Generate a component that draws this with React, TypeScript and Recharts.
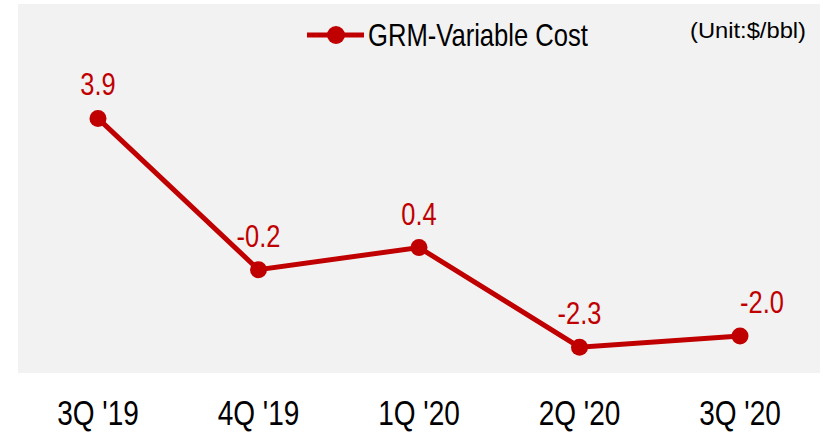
import React from "react";
import { LineChart, Line, XAxis, YAxis, CartesianGrid, LabelList } from "recharts";

const categories = ["3Q '19", "4Q '19", "1Q '20", "2Q '20", "3Q '20"];
const grmValues = [3.9, -0.2, 0.4, -2.3, -2.0];
const seriesName = "GRM-Variable Cost";
const unitLabel = "(Unit:$/bbl)";

const data = categories.map((c, i) => ({ name: c, value: grmValues[i] }));

const RED = "#c00000";
const FONT = "'Liberation Sans', Arial, sans-serif";

const Tick = (props: any) => {
  const { x, y, payload } = props;
  return (
    <g transform={`translate(${x},${y + 44}) scale(0.8,1)`}>
      <text x={0} y={0} textAnchor="middle" fill="#000" fontSize={35} fontFamily={FONT}>
        {payload.value}
      </text>
    </g>
  );
};

const ValueLabel = (props: any) => {
  const { x, y, value, index } = props;
  const dx = index === grmValues.length - 1 ? 22 : 0;
  return (
    <g transform={`translate(${x + dx},${y - 23}) scale(0.82,1)`}>
      <text x={0} y={0} textAnchor="middle" fill={RED} fontSize={31} fontFamily={FONT}>
        {Number(value).toFixed(1)}
      </text>
    </g>
  );
};

export default function App() {
  return (
    <div style={{ position: "absolute", left: 0, top: 0, width: 823, height: 433, background: "#fff" }}>
      <LineChart width={823} height={433} data={data} margin={{ top: 4, right: 3, left: 18, bottom: 0 }}>
        <CartesianGrid fill="#f2f2f2" horizontal={false} vertical={false} stroke="none" />
        <XAxis
          dataKey="name"
          axisLine={false}
          tickLine={false}
          height={60}
          tick={<Tick />}
          interval={0}
          padding={{ left: 80, right: 80 }}
        />
        <YAxis hide domain={[-3, 7]} />
        <Line
          type="linear"
          dataKey="value"
          name={seriesName}
          stroke={RED}
          strokeWidth={5}
          dot={{ r: 8.5, fill: RED, stroke: RED, strokeWidth: 0 }}
          isAnimationActive={false}
        >
          <LabelList dataKey="value" content={<ValueLabel />} />
        </Line>
      </LineChart>
      <svg width={823} height={60} style={{ position: "absolute", left: 0, top: 0 }}>
        <line x1={307} y1={35} x2={364} y2={35} stroke={RED} strokeWidth={5} />
        <circle cx={336} cy={35} r={9} fill={RED} />
        <g transform="translate(368,46) scale(0.8,1)">
          <text x={0} y={0} fill="#000" fontSize={32} fontFamily={FONT}>
            {seriesName}
          </text>
        </g>
        <text x={690} y={38} fill="#000" fontSize={22} fontFamily={FONT} textLength={116} lengthAdjust="spacingAndGlyphs">
          {unitLabel}
        </text>
      </svg>
    </div>
  );
}
